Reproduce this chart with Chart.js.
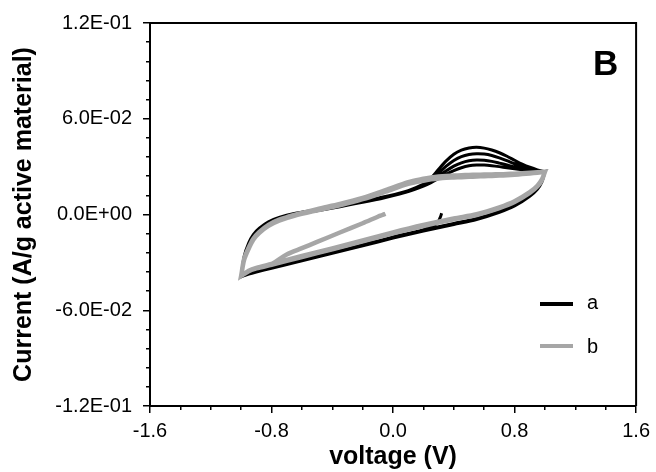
<!DOCTYPE html>
<html lang="en">
<head>
    <meta charset="UTF-8">
    <title>Cyclic voltammogram B</title>
    <style>
        body {
            margin: 0;
            background-color: #ffffff;
        }

        #wrap {
            position: relative;
            width: 656px;
            height: 472px;
            font-family: 'Liberation Sans', Arial, sans-serif;
        }

        #cvChart {
            display: block;
        }

        .legend-line {
            position: absolute;
            left: 540px;
            width: 33px;
            height: 4px;
        }

        .legend-text {
            position: absolute;
            left: 587px;
            font-size: 20px;
            line-height: 20px;
            color: #000;
        }

        #panel {
            position: absolute;
            left: 593px;
            top: 45px;
            font: bold 35px/35px 'Liberation Sans', Arial, sans-serif;
            color: #000;
        }
    </style>
</head>
<body>
    <div id="wrap">
        <canvas id="cvChart" width="656" height="472"></canvas>
        <div id="panel">B</div>
        <div id="legend"></div>
    </div>

    <script src="https://cdn.jsdelivr.net/npm/chart.js"></script>
    <script>
        // series names
        const seriesLabels = ['a', 'b'];

        // axis ticks
        const xTickValues = [-1.6, -0.8, 0.0, 0.8, 1.6];
        const xMinorValues = [-1.4, -1.2, -1.0, -0.6, -0.4, -0.2, 0.2, 0.4, 0.6, 1.0, 1.2, 1.4];
        const yTickValues = [-0.12, -0.06, 0, 0.06, 0.12];
        const yMinorValues = [-0.108, -0.096, -0.084, -0.072, -0.048, -0.036, -0.024, -0.012,
                              0.012, 0.024, 0.036, 0.048, 0.072, 0.084, 0.096, 0.108];

        // potential sweeps (V): anodic (left -> right) and cathodic (right -> left)
        const upSweepV = [-1.0, -0.98, -0.95, -0.92, -0.88, -0.82, -0.75, -0.65, -0.5, -0.35, -0.2, -0.05,
                          0.1, 0.2, 0.25, 0.3, 0.35, 0.4, 0.45, 0.5, 0.55, 0.6, 0.65, 0.7, 0.75, 0.8, 0.85, 0.9, 0.95, 1.0];
        const downSweepV = [1.0, 0.98, 0.95, 0.9, 0.8, 0.7, 0.55, 0.4, 0.2, 0.0, -0.2, -0.4, -0.6, -0.8, -0.9, -0.95, -1.0];

        // series a (black): start at rest potential, then 4 anodic scans with shrinking peak
        const aStartV = [0.32, 0.31, 0.29, 0.2, 0.0, -0.2, -0.4, -0.6, -0.8, -0.9, -0.95, -1.0];
        const aStartI = [0.0008, -0.002, -0.0055, -0.0095, -0.0140, -0.0190, -0.0240, -0.0288, -0.0335, -0.0358, -0.0371, -0.0390];
        const aUp1 = [-0.0390, -0.0262, -0.0178, -0.0126, -0.0086, -0.0046, -0.0019, 0.0006, 0.0030, 0.0055, 0.0082, 0.0113,
                      0.0150, 0.0190, 0.0228, 0.0283, 0.0336, 0.0378, 0.0404, 0.0417, 0.0421, 0.0416, 0.0404, 0.0387, 0.0365, 0.0340, 0.0316, 0.0296, 0.0280, 0.0268];
        const aDown1 = [0.0268, 0.0208, 0.0163, 0.0120, 0.0060, 0.0020, -0.0025, -0.0056, -0.0097, -0.0142, -0.0190, -0.0238, -0.0285, -0.0333, -0.0356, -0.0370, -0.0390];
        const aUp2 = [-0.0390, -0.0265, -0.0181, -0.0128, -0.0088, -0.0048, -0.0021, 0.0004, 0.0028, 0.0053, 0.0080, 0.0111,
                      0.0148, 0.0186, 0.0218, 0.0260, 0.0303, 0.0339, 0.0363, 0.0376, 0.0381, 0.0379, 0.0370, 0.0355, 0.0337, 0.0318, 0.0301, 0.0288, 0.0277, 0.0268];
        const aDown2 = [0.0268, 0.0206, 0.0160, 0.0117, 0.0056, 0.0016, -0.0029, -0.0060, -0.0101, -0.0145, -0.0193, -0.0241, -0.0288, -0.0335, -0.0358, -0.0372, -0.0390];
        const aUp3 = [-0.0390, -0.0267, -0.0183, -0.0130, -0.0090, -0.0050, -0.0023, 0.0002, 0.0026, 0.0051, 0.0078, 0.0109,
                      0.0146, 0.0182, 0.0208, 0.0240, 0.0274, 0.0303, 0.0324, 0.0337, 0.0342, 0.0340, 0.0333, 0.0322, 0.0310, 0.0298, 0.0288, 0.0280, 0.0273, 0.0268];
        const aDown3 = [0.0268, 0.0204, 0.0158, 0.0114, 0.0053, 0.0013, -0.0032, -0.0063, -0.0104, -0.0148, -0.0196, -0.0243, -0.0290, -0.0337, -0.0360, -0.0373, -0.0390];
        const aUp4 = [-0.0390, -0.0269, -0.0185, -0.0132, -0.0092, -0.0052, -0.0025, 0.0000, 0.0024, 0.0049, 0.0076, 0.0107,
                      0.0144, 0.0178, 0.0200, 0.0226, 0.0252, 0.0275, 0.0293, 0.0305, 0.0310, 0.0310, 0.0306, 0.0300, 0.0293, 0.0286, 0.0280, 0.0275, 0.0271, 0.0268];

        // series b (grey): start near 0 V, flat anodic branch
        const bStartV = [-0.05, -0.07, -0.1, -0.2, -0.35, -0.5, -0.6, -0.7, -0.8, -0.9, -0.95, -1.0];
        const bStartI = [0.0005, -0.0003, -0.0014, -0.0055, -0.0113, -0.0172, -0.0211, -0.0250, -0.0310, -0.0337, -0.0354, -0.0385];
        const bUp1 = [-0.0385, -0.0280, -0.0210, -0.0155, -0.0112, -0.0068, -0.0035, -0.0005, 0.0030, 0.0062, 0.0100, 0.0148,
                      0.0198, 0.0218, 0.0226, 0.0232, 0.0236, 0.0238, 0.0240, 0.0242, 0.0243, 0.0245, 0.0246, 0.0248, 0.0250, 0.0253, 0.0256, 0.0259, 0.0263, 0.0268];
        const bDown1 = [0.0268, 0.0215, 0.0175, 0.0135, 0.0078, 0.0040, -0.0003, -0.0030, -0.0072, -0.0118, -0.0168, -0.0218, -0.0266, -0.0315, -0.0338, -0.0355, -0.0385];
        const bUp2 = [-0.0385, -0.0283, -0.0213, -0.0158, -0.0115, -0.0071, -0.0038, -0.0008, 0.0026, 0.0058, 0.0096, 0.0143,
                      0.0192, 0.0212, 0.0220, 0.0226, 0.0230, 0.0232, 0.0234, 0.0236, 0.0238, 0.0240, 0.0242, 0.0244, 0.0246, 0.0249, 0.0253, 0.0257, 0.0262, 0.0268];
        const bDown2 = [0.0268, 0.0220, 0.0180, 0.0140, 0.0083, 0.0045, 0.0002, -0.0025, -0.0066, -0.0112, -0.0162, -0.0212, -0.0260, -0.0310, -0.0334, -0.0352, -0.0385];
        const bUp3 = [-0.0385, -0.0277, -0.0207, -0.0152, -0.0109, -0.0065, -0.0032, -0.0002, 0.0034, 0.0066, 0.0104, 0.0152,
                      0.0203, 0.0224, 0.0232, 0.0238, 0.0242, 0.0244, 0.0246, 0.0248, 0.0249, 0.0250, 0.0251, 0.0252, 0.0254, 0.0256, 0.0259, 0.0262, 0.0265, 0.0268];

        const seriesColors = ['#000000', '#a6a6a6'];

        // join segments into one {x, y} path
        function path(segments) {
            const pts = [];
            segments.forEach(([vs, is]) => {
                vs.forEach((v, i) => pts.push({ x: v, y: is[i] }));
            });
            return pts;
        }

        const dataA = path([[aStartV, aStartI], [upSweepV, aUp1], [downSweepV, aDown1], [upSweepV, aUp2],
                            [downSweepV, aDown2], [upSweepV, aUp3], [downSweepV, aDown3], [upSweepV, aUp4]]);
        const dataB = path([[bStartV, bStartI], [upSweepV, bUp1], [downSweepV, bDown1], [upSweepV, bUp2],
                            [downSweepV, bDown2], [upSweepV, bUp3]]);

        // 1.2E-01 style labels
        function sciLabel(v) {
            if (Math.abs(v) < 1e-9) return '0.0E+00';
            const exp = Math.floor(Math.log10(Math.abs(v)) + 1e-9);
            const mant = v / Math.pow(10, exp);
            return mant.toFixed(1) + 'E' + (exp < 0 ? '-' : '+') + String(Math.abs(exp)).padStart(2, '0');
        }

        const tickFont = { family: "'Liberation Sans', Arial, sans-serif", size: 20 };
        const titleFont = { family: "'Liberation Sans', Arial, sans-serif", size: 25, weight: 'bold' };

        // top and right edges of the frame
        const framePlugin = {
            id: 'frame',
            afterDraw(chart) {
                const { ctx, chartArea: a } = chart;
                ctx.save();
                ctx.strokeStyle = '#000';
                ctx.lineWidth = 2;
                ctx.beginPath();
                ctx.moveTo(a.left, a.top);
                ctx.lineTo(a.right, a.top);
                ctx.lineTo(a.right, a.bottom);
                ctx.stroke();
                ctx.restore();
            }
        };

        new Chart(document.getElementById('cvChart').getContext('2d'), {
            type: 'scatter',
            data: {
                datasets: [
                    {
                        label: seriesLabels[0],
                        data: dataA,
                        showLine: true,
                        borderColor: seriesColors[0],
                        borderWidth: 3,
                        pointRadius: 0,
                        tension: 0.3,
                        order: 1
                    },
                    {
                        label: seriesLabels[1],
                        data: dataB,
                        showLine: true,
                        borderColor: seriesColors[1],
                        borderWidth: 4.5,
                        pointRadius: 0,
                        tension: 0.3,
                        order: 0
                    }
                ]
            },
            options: {
                responsive: false,
                animation: false,
                devicePixelRatio: 1,
                layout: { padding: { top: 20, right: 17, left: 0, bottom: 0 } },
                plugins: {
                    legend: { display: false },
                    tooltip: { enabled: false }
                },
                scales: {
                    x: {
                        type: 'linear',
                        position: 'bottom',
                        weight: 10,
                        min: -1.6,
                        max: 1.6,
                        afterBuildTicks: s => { s.ticks = xTickValues.map(v => ({ value: v })); },
                        afterFit: s => { s.height = 66; },
                        ticks: {
                            padding: 6,
                            color: '#000',
                            font: tickFont,
                            maxRotation: 0,
                            autoSkip: false,
                            callback: v => v.toFixed(1)
                        },
                        grid: { drawOnChartArea: false, drawTicks: true, tickLength: 7, color: '#000', lineWidth: 1.5 },
                        border: { display: true, color: '#000', width: 2 },
                        title: { display: true, text: 'voltage (V)', color: '#000', font: titleFont, padding: { top: 0, bottom: 0 } }
                    },
                    xMinor: {
                        type: 'linear',
                        position: 'bottom',
                        weight: 0,
                        min: -1.6,
                        max: 1.6,
                        afterBuildTicks: s => { s.ticks = xMinorValues.map(v => ({ value: v })); },
                        afterFit: s => { s.height = 0; },
                        ticks: { display: false, autoSkip: false },
                        grid: { drawOnChartArea: false, drawTicks: true, tickLength: 4, color: '#000', lineWidth: 1.5 },
                        border: { display: false }
                    },
                    y: {
                        type: 'linear',
                        position: 'left',
                        weight: 10,
                        min: -0.12,
                        max: 0.12,
                        afterBuildTicks: s => { s.ticks = yTickValues.map(v => ({ value: v })); },
                        afterFit: s => { s.width = 150; },
                        ticks: {
                            padding: 11,
                            color: '#000',
                            font: tickFont,
                            autoSkip: false,
                            callback: v => sciLabel(v)
                        },
                        grid: { drawOnChartArea: false, drawTicks: true, tickLength: 7, color: '#000', lineWidth: 1.5 },
                        border: { display: true, color: '#000', width: 2 },
                        title: { display: true, text: 'Current (A/g active material)', color: '#000', font: titleFont, padding: { top: 9, bottom: 0 } }
                    },
                    yMinor: {
                        type: 'linear',
                        position: 'left',
                        weight: 0,
                        min: -0.12,
                        max: 0.12,
                        afterBuildTicks: s => { s.ticks = yMinorValues.map(v => ({ value: v })); },
                        afterFit: s => { s.width = 0; },
                        ticks: { display: false, autoSkip: false },
                        grid: { drawOnChartArea: false, drawTicks: true, tickLength: 4, color: '#000', lineWidth: 1.5 },
                        border: { display: false }
                    }
                }
            },
            plugins: [framePlugin]
        });

        // legend in the lower right of the plot
        const legendTops = [292, 336];
        const legendLineTops = [302, 344];
        const legend = document.getElementById('legend');
        seriesLabels.forEach((name, i) => {
            const line = document.createElement('div');
            line.className = 'legend-line';
            line.style.top = legendLineTops[i] + 'px';
            line.style.backgroundColor = seriesColors[i];
            legend.appendChild(line);
            const text = document.createElement('div');
            text.className = 'legend-text';
            text.style.top = legendTops[i] + 'px';
            text.textContent = name;
            legend.appendChild(text);
        });
    </script>
</body>
</html>
